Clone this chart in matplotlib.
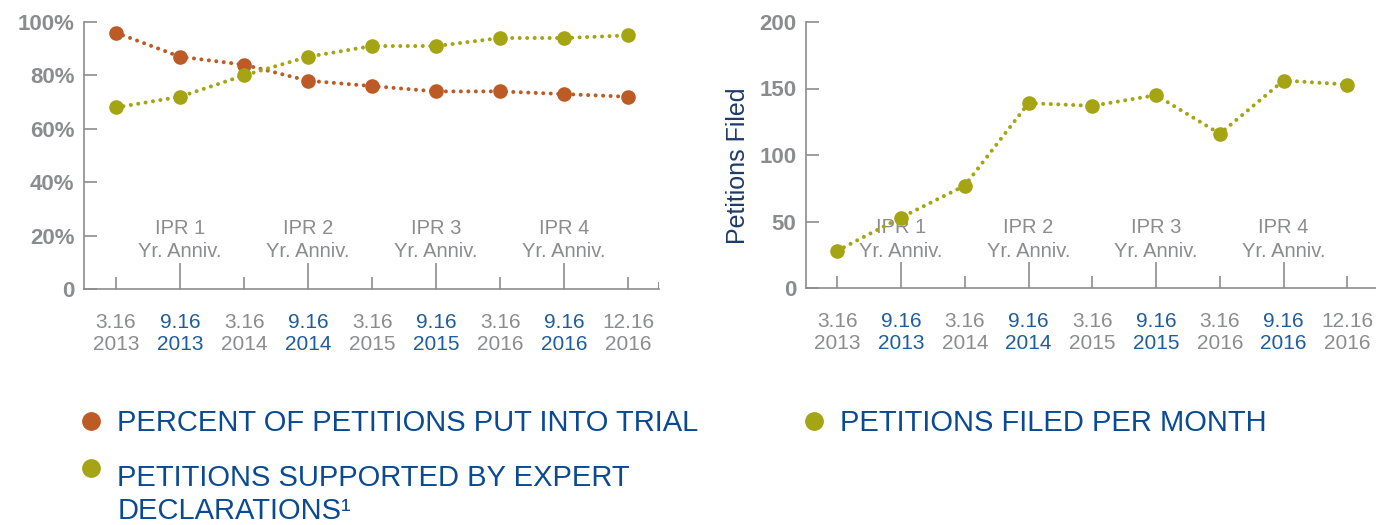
import matplotlib
matplotlib.use("Agg")
import matplotlib.pyplot as plt
from matplotlib.lines import Line2D

plt.rcParams["font.family"] = ["Liberation Sans", "DejaVu Sans"]

# ---- data ----
dates = ["3.16\n2013", "9.16\n2013", "3.16\n2014", "9.16\n2014", "3.16\n2015",
         "9.16\n2015", "3.16\n2016", "9.16\n2016", "12.16\n2016"]
trial_pct = [96, 87, 84, 78, 76, 74, 74, 73, 72]
expert_pct = [68, 72, 80, 87, 91, 91, 94, 94, 95]
filed = [28, 53, 77, 139, 137, 145, 116, 156, 153]
anniv = ["IPR 1\nYr. Anniv.", "IPR 2\nYr. Anniv.", "IPR 3\nYr. Anniv.", "IPR 4\nYr. Anniv."]
pct_ticks = [0, 20, 40, 60, 80, 100]
pct_labels = ["0", "20%", "40%", "60%", "80%", "100%"]
filed_ticks = [0, 50, 100, 150, 200]

ORANGE = "#bd5b27"
OLIVE = "#a5a414"
GRAY = "#8b8c8e"
BLUE = "#1f5c9e"
NAVY = "#0b4a92"

DOT = dict(linestyle=(0, (0.01, 1.85)), dash_capstyle="round", linewidth=2.9,
           marker="o", markersize=9.5)


def style(ax, x, ylim, yticks, ylabels, xlim):
    for s in ("top", "right"):
        ax.spines[s].set_visible(False)
    for s in ("left", "bottom"):
        ax.spines[s].set_color(GRAY)
        ax.spines[s].set_linewidth(1.2)
    ax.set_xlim(*xlim)
    ax.set_ylim(*ylim)
    ax.set_yticks(yticks)
    ax.set_yticklabels(ylabels, fontsize=16, fontweight="bold", color=GRAY)
    ax.tick_params(axis="y", direction="in", length=9.5, width=1.2, color=GRAY, pad=7)
    major = x[0::2]
    minor = x[1::2]
    ax.set_xticks(major)
    ax.set_xticks(minor, minor=True)
    ax.set_xticklabels(dates[0::2], fontsize=15, color=GRAY, linespacing=1.15)
    ax.set_xticklabels(dates[1::2], minor=True, fontsize=15, color=BLUE, linespacing=1.15)
    ax.tick_params(axis="x", which="major", direction="in", length=9, width=1.2,
                   color=GRAY, pad=17.5)
    ax.tick_params(axis="x", which="minor", direction="in", length=19, width=1.2,
                   color=GRAY, pad=17.5)
    for xi, t in zip(minor, anniv):
        ax.text(xi, 0.183, t, transform=ax.get_xaxis_transform(), ha="center",
                va="center", fontsize=14.5, color=GRAY, linespacing=1.3)


fig = plt.figure(figsize=(13.76, 5.25), dpi=100)
x = list(range(len(dates)))

ax1 = fig.add_axes([84 / 1376, 236 / 525, 575 / 1376, 267 / 525])
style(ax1, x, (0, 100), pct_ticks, pct_labels, (-0.5, 8.48))
# short end-cap tick at the right end of the left x axis
ax1.axvline(ax1.get_xlim()[1], ymax=0.023, color=GRAY, linewidth=1.4)
ax1.plot(x, trial_pct, color=ORANGE, **DOT, zorder=3)
ax1.plot(x, expert_pct, color=OLIVE, **DOT, zorder=3)

ax2 = fig.add_axes([806 / 1376, 237 / 525, 570 / 1376, 266 / 525])
style(ax2, x, (0, 200), filed_ticks, [str(v) for v in filed_ticks], (-0.49, 8.45))
ax2.plot(x, filed, color=OLIVE, **DOT, zorder=3)
ax2.set_ylabel("Petitions Filed", fontsize=18, color="#1d3a6b", labelpad=6)
ax2.yaxis.set_label_coords(-0.099, 0.46)

# ---- legends ----
def bullet(c):
    return Line2D([], [], linestyle="none", marker="o", markersize=12.5, color=c)

leg_kw = dict(frameon=False, fontsize=21, handlelength=0.9, handletextpad=0.45,
              labelspacing=0.92, borderpad=0, borderaxespad=0)
leg1 = fig.legend([bullet(ORANGE), bullet(OLIVE)],
                  ["PERCENT OF PETITIONS PUT INTO TRIAL", "PETITIONS SUPPORTED BY EXPERT"],
                  loc="upper left", bbox_to_anchor=(78 / 1376, 1 - 409 / 525), **leg_kw)
leg2 = fig.legend([bullet(OLIVE)], ["PETITIONS FILED PER MONTH"],
                  loc="upper left", bbox_to_anchor=(801 / 1376, 1 - 409 / 525), **leg_kw)
for t in leg1.get_texts() + leg2.get_texts():
    t.set_color(NAVY)
# second bullet sits a little above its text line, as in the original
h = leg1.legend_handles[1]
h.set_ydata([v + 5.8 for v in h.get_ydata()])

fig.canvas.draw()
bb = leg1.get_texts()[1].get_window_extent().transformed(fig.transFigure.inverted())
fig.text(bb.x0, (bb.y0 + bb.y1) / 2 - 33 / 525, "DECLARATIONS\u00b9", fontsize=21,
         color=NAVY, ha="left", va="center")

fig.savefig("out.png", dpi=100)
